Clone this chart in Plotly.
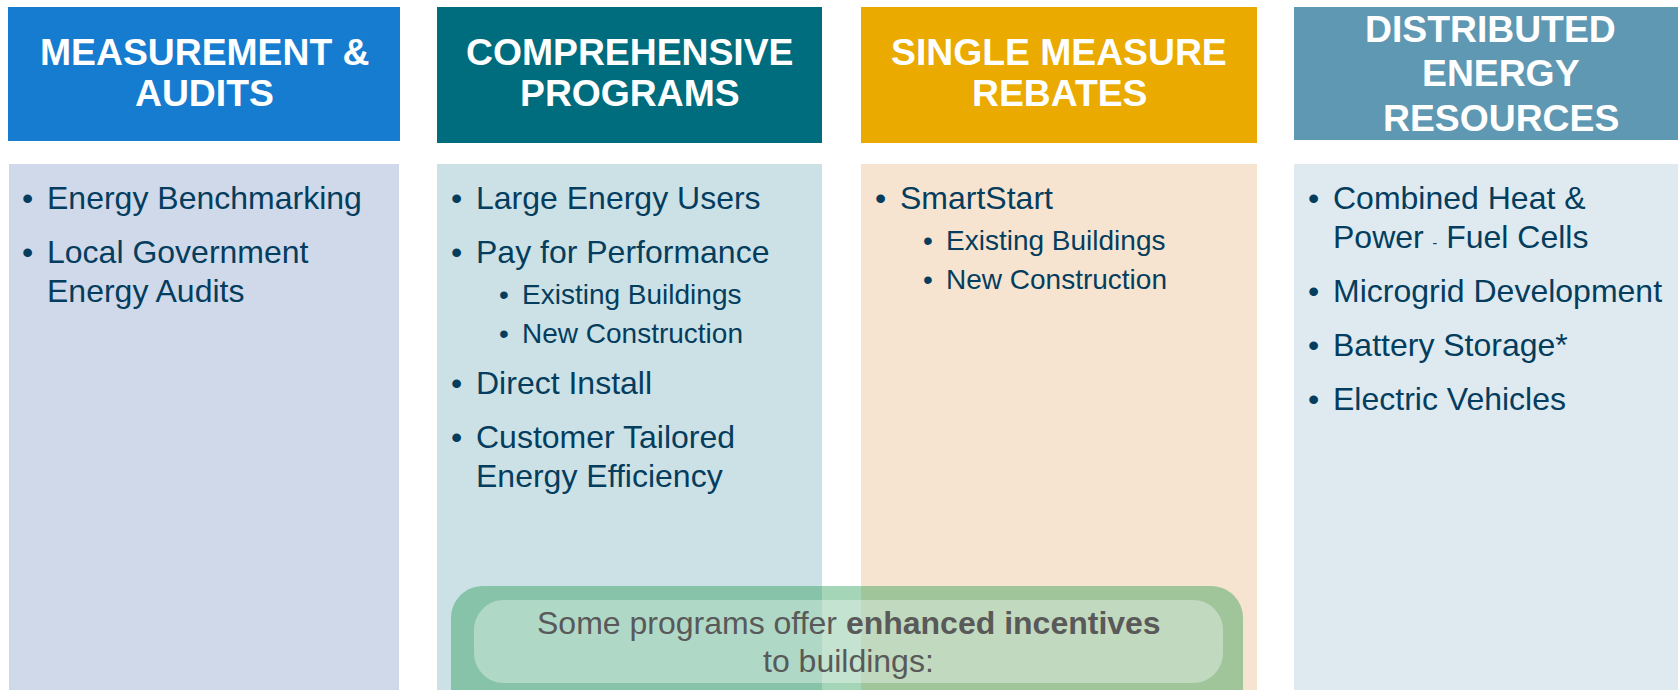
import plotly.graph_objects as go

# ---------------- data (text content) ----------------
headers = [
    ["MEASUREMENT &", "AUDITS"],
    ["COMPREHENSIVE", "PROGRAMS"],
    ["SINGLE MEASURE", "REBATES"],
    ["DISTRIBUTED", "ENERGY", "RESOURCES"],
]
header_colors = ["#167CD0", "#006D7E", "#EAAA00", "#5F98B2"]
body_colors = ["#CFD9EA", "#CCE1E6", "#F7E4D0", "#DEEAF0"]

# (level, [wrapped lines])
col1_items = [
    (1, ["Energy Benchmarking"]),
    (1, ["Local Government", "Energy Audits"]),
]
col2_items = [
    (1, ["Large Energy Users"]),
    (1, ["Pay for Performance"]),
    (2, ["Existing Buildings"]),
    (2, ["New Construction"]),
    (1, ["Direct Install"]),
    (1, ["Customer Tailored", "Energy Efficiency"]),
]
col3_items = [
    (1, ["SmartStart"]),
    (2, ["Existing Buildings"]),
    (2, ["New Construction"]),
]
col4_items = [
    (1, ["Combined Heat &", "Power <span style='font-size:14px'>-</span> Fuel Cells"]),
    (1, ["Microgrid Development"]),
    (1, ["Battery Storage*"]),
    (1, ["Electric Vehicles"]),
]
columns_items = [col1_items, col2_items, col3_items, col4_items]

overlay_lines = ["Some programs offer <b>enhanced incentives</b>", "to buildings:"]

# ---------------- layout geometry ----------------
W, H = 1678, 690
FONT = "Liberation Sans, Arial, Helvetica, sans-serif"
TEXT_COLOR = "#043D5D"
col_x = [(8, 400), (437, 822), (861, 1257), (1294, 1686)]
header_y1 = [141, 143, 143, 140]
HEADER_TOP = 7
BODY_TOP = 164

shapes = []
annotations = []


def ann(x, baseline, text, size, color, bold=False, xanchor="left", xshift=0):
    t = f"<b>{text}</b>" if bold else text
    annotations.append(dict(
        x=x, y=baseline - 0.35 * size, xref="x", yref="y", text=t,
        showarrow=False, xanchor=xanchor, yanchor="middle",
        font=dict(family=FONT, size=size, color=color),
        borderpad=0, borderwidth=0, xshift=xshift,
    ))


for i, (x0, x1) in enumerate(col_x):
    shapes.append(dict(type="rect", xref="x", yref="y", x0=x0, x1=x1,
                       y0=HEADER_TOP, y1=header_y1[i], fillcolor=header_colors[i],
                       line=dict(width=0), layer="below"))
    shapes.append(dict(type="rect", xref="x", yref="y", x0=x0 + (1 if i == 0 else 0), x1=x1 - (1 if i == 0 else 0),
                       y0=BODY_TOP, y1=H + 20, fillcolor=body_colors[i],
                       line=dict(width=0), layer="below"))

    # header text
    lines = headers[i]
    if len(lines) == 2:
        start, step = 65, 41
    else:
        start, step = 42, 44.5
    cx = (x0 + x1) / 2
    for k, line in enumerate(lines):
        xs = 0
        if len(lines) == 3 and k > 0:
            xs = 11
        ann(cx, start + k * step, line, 37.3, "white", bold=True, xanchor="center", xshift=xs)

    # body bullets
    y = 209
    prev = None
    for level, wrapped in columns_items[i]:
        if prev is not None:
            if prev == 1 and level == 1:
                y += 54
            elif prev == 1 and level == 2:
                y += 41
            elif prev == 2 and level == 2:
                y += 39
            else:
                y += 51
        size = 32 if level == 1 else 28
        bx = x0 + (19.5 if level == 1 else 66.5)
        tx = x0 + (39 if level == 1 else 85)
        ann(bx, y, "•", size, TEXT_COLOR, xanchor="center")
        for k, line in enumerate(wrapped):
            if k > 0:
                y += 39
            ann(tx, y, line, size, TEXT_COLOR)
        prev = level


def rounded_path(x0, y0, x1, y1, r):
    k = 0.5523 * r
    return (f"M{x0 + r},{y0} L{x1 - r},{y0} "
            f"C{x1 - r + k},{y0} {x1},{y0 + r - k} {x1},{y0 + r} "
            f"L{x1},{y1 - r} "
            f"C{x1},{y1 - r + k} {x1 - r + k},{y1} {x1 - r},{y1} "
            f"L{x0 + r},{y1} "
            f"C{x0 + r - k},{y1} {x0},{y1 - r + k} {x0},{y1 - r} "
            f"L{x0},{y0 + r} "
            f"C{x0},{y0 + r - k} {x0 + r - k},{y0} {x0 + r},{y0} Z")


shapes.append(dict(type="path", xref="x", yref="y", path=rounded_path(451, 586, 1243, 760, 32),
                   fillcolor="rgba(30,150,75,0.4)", line=dict(width=0), layer="above"))
shapes.append(dict(type="path", xref="x", yref="y", path=rounded_path(474, 600, 1223, 683, 30),
                   fillcolor="rgba(255,255,255,0.35)", line=dict(width=0), layer="above"))

ocx = (474 + 1223) / 2
for k, line in enumerate(overlay_lines):
    ann(ocx, 634 + k * 38, line, 32, "#595959", xanchor="center")

fig = go.Figure()
fig.update_layout(
    width=W, height=H, autosize=False,
    margin=dict(l=0, r=0, t=0, b=0, pad=0),
    paper_bgcolor="white", plot_bgcolor="white",
    xaxis=dict(range=[0, W], visible=False, fixedrange=True),
    yaxis=dict(range=[H, 0], visible=False, fixedrange=True),
    shapes=shapes, annotations=annotations, showlegend=False,
)
fig.write_html("out.html", config={"displayModeBar": False, "staticPlot": True},
               post_script="document.body.style.margin='0';")
